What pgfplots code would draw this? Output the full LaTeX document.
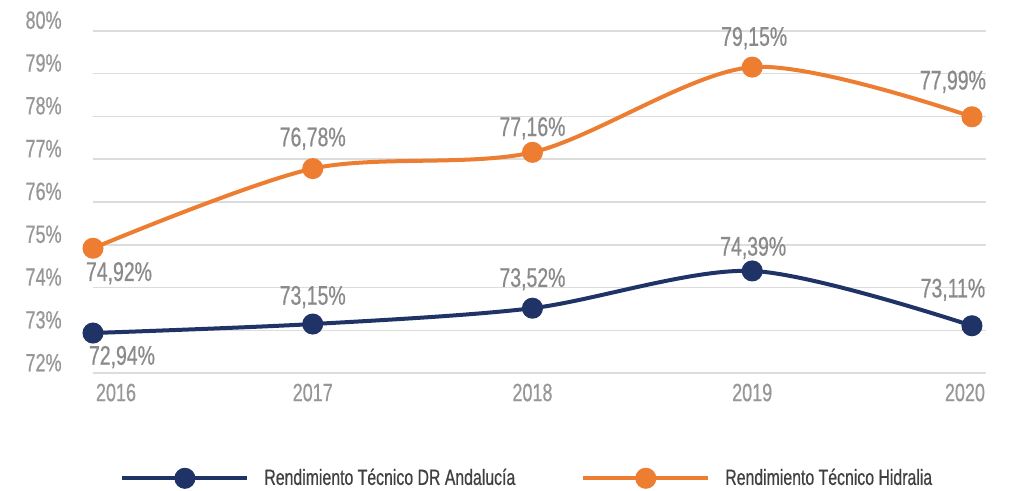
\documentclass[border=0pt]{standalone}
\usepackage{fontspec}
\setmainfont[FakeStretch=0.72, FakeBold=0.6]{Liberation Sans}
\usepackage{pgfplots}
\pgfplotsset{compat=1.18}
\usepackage{pgfplotstable}
\definecolor{navy}{HTML}{1F3366}
\definecolor{orng}{HTML}{ED7D31}
\definecolor{tgray}{HTML}{979797}
\definecolor{dgray}{HTML}{8A8A8A}
\definecolor{lgray}{HTML}{404040}
\definecolor{gridc}{HTML}{DCDCDC}

\pgfplotstableread{
year val lab dx dy
2016 74.92 74,92 13 -12.5
2017 76.78 76,78 0 15
2018 77.16 77,16 0 12
2019 79.15 79,15 1 14.5
2020 77.99 77,99 -9.5 17.5
}\orangedata

\pgfplotstableread{
year val lab dx dy
2016 72.94 72,94 14.5 -12
2017 73.15 73,15 0 13.5
2018 73.52 73,52 0 14.5
2019 74.39 74,39 0.5 11.5
2020 73.11 73,11 -9.5 18
}\bluedata

\begin{document}
\begin{tikzpicture}
\begin{axis}[
  at={(0,0)}, anchor=south west,
  scale only axis,
  width=446.5pt, height=171.3pt,
  xmin=2016, xmax=2020.064,
  ymin=72, ymax=80,
  clip=false,
  axis line style={draw=none},
  major tick length=0pt,
  ymajorgrids,
  grid style={gridc, line width=0.8pt},
  ytick={72,73,...,80},
  yticklabels={72\%,73\%,74\%,75\%,76\%,77\%,78\%,79\%,80\%},
  xtick={2016,2017,2018,2019,2020},
  xticklabels={\hspace*{23pt}2016,2017,2018,2019,2020\hspace*{7pt}},
  ticklabel style={font=\fontsize{12.5}{14}\selectfont, text=tgray},
  yticklabel style={anchor=base east, inner sep=0pt, xshift=-15.5pt, yshift=1pt},
  xticklabel style={anchor=north, inner sep=0pt, yshift=-5pt},
  point meta=explicit symbolic,
  nodes near coords={\pgfplotspointmeta\%},
  visualization depends on={\thisrow{dx} \as \dx},
  visualization depends on={\thisrow{dy} \as \dy},
  nodes near coords style={anchor=center, inner sep=0pt, xshift=\dx*1pt, yshift=\dy*1pt,
     font=\fontsize{13.5}{15}\selectfont, text=dgray},
  legend image code/.code={\draw[mark repeat=2, mark phase=2, #1] plot coordinates {(0pt,0pt) (31.25pt,0pt) (62.5pt,0pt)};},
  legend columns=2,
  legend style={at={(0,0)}, anchor=west, xshift=13.5pt, yshift=-52.5pt,
     draw=none, fill=none, inner sep=0pt,
     font=\fontsize{11}{13}\selectfont, text=lgray,
     nodes={inner sep=0pt},
     /tikz/every odd column/.append style={column sep=7.5pt},
     /tikz/every even column/.append style={column sep=33pt}},
]
\addplot[navy, line width=2pt, smooth, tension=0.5, mark=*, mark size=4.25pt, mark options={solid, fill=navy}]
  table[x=year, y=val, meta=lab] {\bluedata};
\addlegendentry{Rendimiento Técnico DR Andalucía}
\addplot[orng, line width=2pt, smooth, tension=0.5, mark=*, mark size=4.25pt, mark options={solid, fill=orng}]
  table[x=year, y=val, meta=lab] {\orangedata};
\addlegendentry{Rendimiento Técnico Hidralia}
\end{axis}
\pgfresetboundingbox
\useasboundingbox (-46.5pt,-58.85pt) rectangle (463pt,186.65pt);
\end{tikzpicture}
\end{document}
